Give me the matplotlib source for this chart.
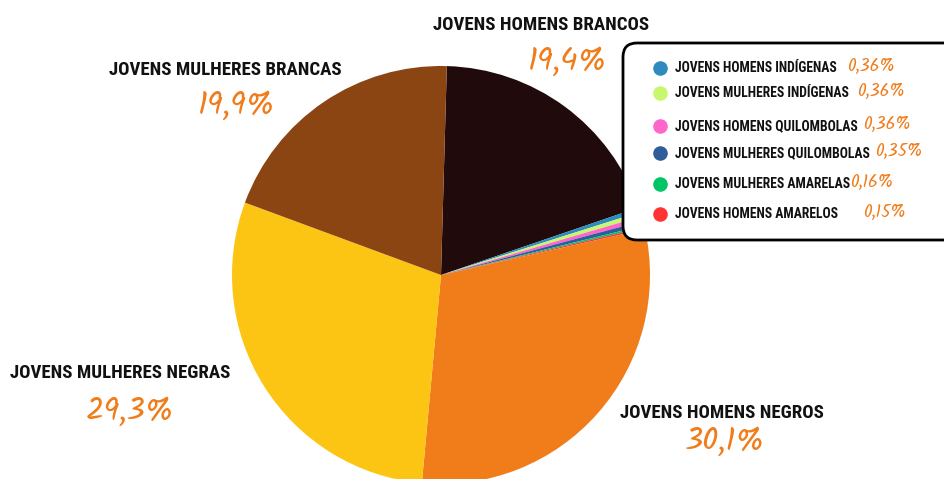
import matplotlib
matplotlib.use("Agg")
import matplotlib.pyplot as plt
from matplotlib.patches import FancyBboxPatch

# Données
grupos = ["JOVENS HOMENS BRANCOS", "JOVENS HOMENS INDÍGENAS", "JOVENS MULHERES INDÍGENAS",
          "JOVENS HOMENS QUILOMBOLAS", "JOVENS MULHERES QUILOMBOLAS", "JOVENS MULHERES AMARELAS",
          "JOVENS HOMENS AMARELOS", "JOVENS HOMENS NEGROS", "JOVENS MULHERES NEGRAS",
          "JOVENS MULHERES BRANCAS"]
valores = [19.4, 0.36, 0.36, 0.36, 0.35, 0.16, 0.15, 30.1, 29.3, 19.9]
cores = ["#200a0c", "#2e8bc0", "#c8f76e", "#ff66cc", "#2f5c9a", "#00c466", "#ff3333",
         "#f07c1a", "#fdc513", "#8b4513"]
rotulos = ["19,4%", "0,36%", "0,36%", "0,36%", "0,35%", "0,16%", "0,15%",
           "30,1%", "29,3%", "19,9%"]

FONTE = ["Roboto Condensed", "DejaVu Sans"]
MAO = ["Kalam", "DejaVu Sans"]

W, H = 944, 479
fig = plt.figure(figsize=(W / 100, H / 100), dpi=100)
ax = fig.add_axes([0, 0, 1, 1])

# pizza em coordenadas de pixel (eixo y invertido)
ax.pie(valores, colors=cores, startangle=-88.4, counterclock=True,
       radius=209, center=(441, 275), frame=True,
       wedgeprops=dict(linewidth=0))
ax.set_xlim(0, W)
ax.set_ylim(H, 0)
ax.set_aspect("equal")
ax.axis("off")

titulo = dict(family=FONTE, weight="bold", color="#111111", fontsize=13.6,
              ha="center", va="center")
pct = dict(family=MAO, color="#f07c1a", fontsize=23, ha="center", va="center")

# rótulos grandes
grandes = {0: (541, 25, 567, 61), 9: (225, 70, 237, 105),
           8: (120, 373, 130, 411), 7: (722, 413, 725, 441)}
for i, (tx, ty, px, py) in grandes.items():
    ax.text(tx, ty, grupos[i], **titulo)
    ax.text(px, py, rotulos[i], **pct)

# caixa da legenda
caixa = FancyBboxPatch((623, 43), 340, 197, boxstyle="round,pad=0,rounding_size=14",
                       facecolor="white", edgecolor="black", linewidth=2, zorder=3)
ax.add_patch(caixa)

ys = [68, 93, 126, 153, 184, 214]
pxs = [871, 881, 887, 899, 872, 885]
for k in range(6):
    i = k + 1
    ax.scatter([660], [ys[k]], s=110, color=cores[i], zorder=4, linewidths=0)
    ax.text(675, ys[k], grupos[i], family=FONTE, weight="bold", fontsize=9.8,
            color="#111111", va="center", ha="left", zorder=4)
    ax.text(pxs[k], ys[k] - 2, rotulos[i], family=MAO, fontsize=12.5,
            color="#f07c1a", va="center", ha="center", zorder=4)

fig.savefig("out.png", dpi=100)
